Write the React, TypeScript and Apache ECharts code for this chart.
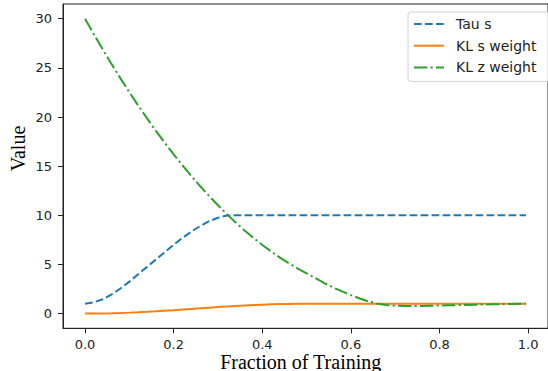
import React, { useEffect, useRef } from "react";
import * as echarts from "echarts";

const xs = [0, 0.02, 0.04, 0.06, 0.08, 0.1, 0.12, 0.14, 0.16, 0.18, 0.2, 0.22, 0.24, 0.26, 0.28, 0.3, 0.32, 0.34, 0.36, 0.38, 0.4, 0.42, 0.44, 0.46, 0.48, 0.5, 0.52, 0.54, 0.56, 0.58, 0.6, 0.62, 0.64, 0.66, 0.68, 0.7, 0.72, 0.74, 0.76, 0.78, 0.8, 0.82, 0.84, 0.86, 0.88, 0.9, 0.92, 0.94, 0.96, 0.98, 0.995];

const tauS = [1.0, 1.15, 1.45, 1.95, 2.55, 3.25, 4.0, 4.75, 5.5, 6.25, 7.0, 7.7, 8.35, 8.9, 9.4, 9.75, 9.97, 10, 10, 10, 10, 10, 10, 10, 10, 10, 10, 10, 10, 10, 10, 10, 10, 10, 10, 10, 10, 10, 10, 10, 10, 10, 10, 10, 10, 10, 10, 10, 10, 10, 10];

const klS = [0, 0.004, 0.016, 0.035, 0.06, 0.095, 0.135, 0.18, 0.23, 0.29, 0.345, 0.41, 0.47, 0.53, 0.59, 0.655, 0.71, 0.77, 0.82, 0.865, 0.905, 0.94, 0.965, 0.985, 0.996, 1, 1, 1, 1, 1, 1, 1, 1, 1, 1, 1, 1, 1, 1, 1, 1, 1, 1, 1, 1, 1, 1, 1, 1, 1, 1];

const klZ = [30.0, 28.41, 26.87, 25.38, 23.93, 22.52, 21.17, 19.86, 18.59, 17.37, 16.2, 15.07, 13.99, 12.95, 11.96, 11.02, 10.12, 9.27, 8.46, 7.7, 6.98, 6.32, 5.69, 5.12, 4.58, 4.1, 3.6, 3.1, 2.65, 2.25, 1.88, 1.53, 1.23, 1.0, 0.87, 0.8, 0.77, 0.77, 0.78, 0.8, 0.82, 0.84, 0.86, 0.88, 0.9, 0.92, 0.94, 0.96, 0.975, 0.99, 1.0];

const xTicks = [0, 0.2, 0.4, 0.6, 0.8, 1.0];
const yTicks = [0, 5, 10, 15, 20, 25, 30];
const seriesNames = ["Tau s", "KL s weight", "KL z weight"];

const pairs = (ys: number[]) => xs.map((x, i) => [x, ys[i]]);

export default function App() {
  const ref = useRef<HTMLDivElement>(null);
  useEffect(() => {
    if (!ref.current) return;
    const chart = echarts.init(ref.current, undefined, { renderer: "svg" });
    const tickFont = { fontFamily: "DejaVu Sans", fontSize: 13, color: "#222" };
    chart.setOption({
      animation: false,
      backgroundColor: "#fff",
      grid: {
        left: 63,
        top: 4,
        width: 489,
        height: 324.3,
        show: true,
        borderColor: "#222",
        borderWidth: 1,
        backgroundColor: "transparent",
      },
      xAxis: {
        type: "value",
        min: -0.0497,
        max: 1.0447,
        splitLine: { show: false },
        axisLine: { show: true, onZero: false, lineStyle: { color: "#222", width: 1 } },
        axisTick: { show: true, length: 5, customValues: xTicks, lineStyle: { color: "#222" } },
        axisLabel: {
          ...tickFont,
          margin: 10,
          customValues: xTicks,
          formatter: (v: number) => v.toFixed(1),
        },
      },
      yAxis: {
        type: "value",
        min: -1.5,
        max: 31.5,
        splitLine: { show: false },
        axisLine: { show: true, onZero: false, lineStyle: { color: "#222", width: 1 } },
        axisTick: { show: true, length: 5, customValues: yTicks, lineStyle: { color: "#222" } },
        axisLabel: {
          ...tickFont,
          margin: 11,
          customValues: yTicks,
          formatter: (v: number) => String(v),
        },
      },
      legend: {
        orient: "vertical",
        left: 408,
        top: 12,
        padding: [5, 14, 7, 5],
        itemWidth: 30,
        itemHeight: 14,
        itemGap: 7.7,
        backgroundColor: "rgba(255,255,255,0.8)",
        borderColor: "#d0d0d0",
        borderWidth: 1,
        borderRadius: 3,
        itemStyle: { opacity: 0, borderWidth: 0 },
        textStyle: { fontFamily: "DejaVu Sans", fontSize: 14, color: "#222", padding: [0, 0, 0, 7] },
        data: seriesNames,
      },
      series: [
        {
          name: seriesNames[0],
          type: "line",
          symbol: "none",
          data: pairs(tauS),
          lineStyle: { color: "#1f77b4", width: 2, type: [7.7, 3.3] },
          itemStyle: { color: "#1f77b4" },
          z: 3,
        },
        {
          name: seriesNames[1],
          type: "line",
          symbol: "none",
          data: pairs(klS),
          lineStyle: { color: "#ff7f0e", width: 2, type: "solid" },
          itemStyle: { color: "#ff7f0e" },
          z: 4,
        },
        {
          name: seriesNames[2],
          type: "line",
          symbol: "none",
          data: pairs(klZ),
          lineStyle: { color: "#2ca02c", width: 2, type: [13.3, 3.3, 2.1, 3.3] },
          itemStyle: { color: "#2ca02c" },
          z: 5,
        },
      ],
      graphic: [
        {
          type: "text",
          x: 18,
          y: 148.5,
          rotation: Math.PI / 2,
          style: {
            text: "Value",
            font: '20px "Liberation Serif"',
            fill: "#000",
            textAlign: "center",
            textVerticalAlign: "middle",
          },
        },
        {
          type: "text",
          x: 300.7,
          y: 362,
          style: {
            text: "Fraction of Training",
            font: '20px "Liberation Serif"',
            fill: "#000",
            textAlign: "center",
            textVerticalAlign: "middle",
          },
        },
      ],
    });
    return () => chart.dispose();
  }, []);
  return (
    <div
      ref={ref}
      style={{ position: "fixed", left: 0, top: 0, width: 548, height: 371 }}
    />
  );
}
